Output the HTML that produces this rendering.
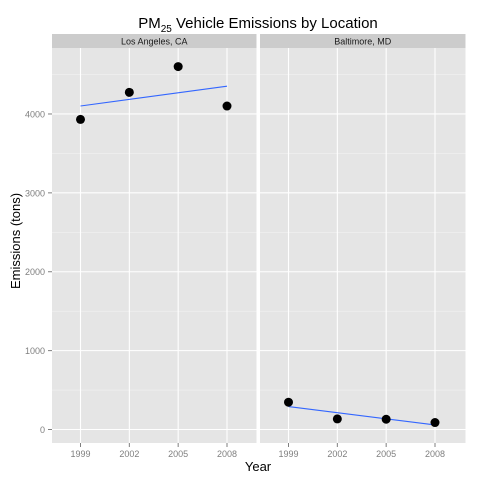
<!DOCTYPE html>
<html><head><meta charset="utf-8"><style>body{margin:0;background:#fff}svg{display:block;font-family:"Liberation Sans",sans-serif}</style></head>
<body>
<svg id="c" width="480" height="480" xmlns="http://www.w3.org/2000/svg">
<text x="258" y="28" font-size="15" text-anchor="middle">PM<tspan font-size="10" dy="4">25</tspan><tspan dy="-4"> Vehicle Emissions by Location</tspan></text>
<text x="258" y="471" font-size="13" text-anchor="middle">Year</text>
<text transform="translate(20,241) rotate(-90)" font-size="13" text-anchor="middle">Emissions (tons)</text>
<g id="plot"></g>
</svg>
<script>
const years = [1999, 2002, 2005, 2008];
const panelNames = ["Los Angeles, CA", "Baltimore, MD"];
const laValues = [3931, 4274, 4601, 4101];
const baltValues = [346, 134, 130, 88];
const yTicks = [0, 1000, 2000, 3000, 4000];
const series = [laValues, baltValues];

const NS = "http://www.w3.org/2000/svg";
const g = document.getElementById("plot");
function mk(tag, attrs, parent) {
  const e = document.createElementNS(NS, tag);
  for (const k in attrs) e.setAttribute(k, attrs[k]);
  (parent || g).appendChild(e);
  return e;
}
const plotTop = 48, plotBottom = 443;
const y = v => 429.5 - v * 0.07888;
const panels = [{x0: 52, x1: 256.5}, {x0: 260, x1: 465.5}];

yTicks.forEach(t => {
  const tl = mk("line", {x1: 48, x2: 52, y1: y(t), y2: y(t), stroke: "#7f7f7f"});
  
  
  const tx = mk("text", {x: 45, y: y(t) + 3.5, "font-size": 9, fill: "#7f7f7f", "text-anchor": "end"});
  tx.textContent = t;
  
  
});

panels.forEach((p, i) => {
  const x = yr => p.x0 + 28.5 + (yr - 1999) * (146.5 / 9);
  const bg = mk("rect", {x: p.x0, y: plotTop, width: p.x1 - p.x0, height: plotBottom - plotTop, fill: "#e5e5e5"});
  
  
  const st = mk("rect", {x: p.x0, y: 34, width: p.x1 - p.x0, height: 14, fill: "#cccccc"});
  
  
  const sl = mk("text", {x: (p.x0 + p.x1) / 2, y: 44.5, "font-size": 9, "text-anchor": "middle", fill: "#1a1a1a"});
  sl.textContent = panelNames[i];
  
  
  for (let k = 0; k < yTicks.length; k++) {
    const mv = yTicks[k] + 500;
    const mg = mk("line", {x1: p.x0, x2: p.x1, y1: y(mv), y2: y(mv), stroke: "#f2f2f2", "stroke-width": 0.6});
    
    
  }
  yTicks.forEach(t => {
    const gl = mk("line", {x1: p.x0, x2: p.x1, y1: y(t), y2: y(t), stroke: "#fff", "stroke-width": 1.1});
    
    
  });
  years.forEach(yr => {
    const gl = mk("line", {x1: x(yr), x2: x(yr), y1: plotTop, y2: plotBottom, stroke: "#fff", "stroke-width": 1.1});
    
    
    const tk = mk("line", {x1: x(yr), x2: x(yr), y1: plotBottom, y2: plotBottom + 4, stroke: "#7f7f7f"});
    
    
    const tl = mk("text", {x: x(yr), y: plotBottom + 14, "font-size": 9, fill: "#7f7f7f", "text-anchor": "middle"});
    tl.textContent = yr;
    
    
  });
  const vals = series[i];
  const mx = years.reduce((a, b) => a + b, 0) / years.length;
  const my = vals.reduce((a, b) => a + b, 0) / vals.length;
  let sxy = 0, sxx = 0;
  years.forEach((yr, j) => { sxy += (yr - mx) * (vals[j] - my); sxx += (yr - mx) ** 2; });
  const b = sxy / sxx;
  const f = yr => my + b * (yr - mx);
  const ln = mk("line", {x1: x(years[0]), y1: y(f(years[0])), x2: x(years[years.length - 1]), y2: y(f(years[years.length - 1])), stroke: "#3366ff", "stroke-width": 1.1});
  
  
  vals.forEach((v, j) => {
    const c = mk("circle", {cx: x(years[j]), cy: y(v), r: 4.5, fill: "#000"});
    
    
  });
});
</script>
</body></html>
